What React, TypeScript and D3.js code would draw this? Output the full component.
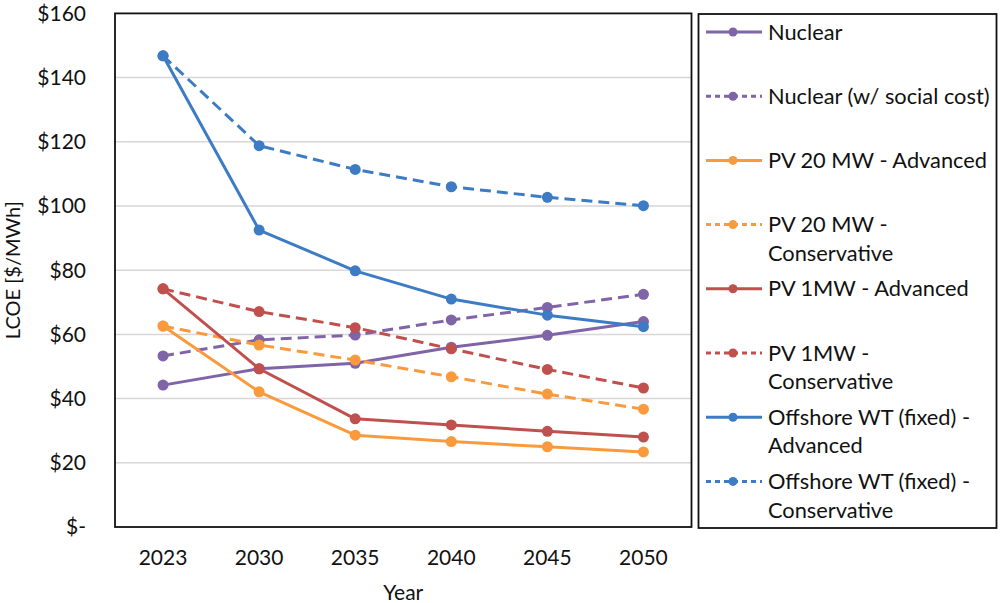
import React from "react";
import * as d3 from "d3";

const years = ["2023", "2030", "2035", "2040", "2045", "2050"];
const yTicks = [0, 20, 40, 60, 80, 100, 120, 140, 160];

const nuclear = [44.2, 49.3, 51.0, 56.0, 59.7, 64.0];
const nuclearSocial = [53.3, 58.3, 59.8, 64.5, 68.4, 72.5];
const pv20Adv = [62.6, 42.1, 28.6, 26.6, 25.0, 23.4];
const pv20Cons = [62.6, 56.7, 52.0, 46.8, 41.4, 36.7];
const pv1Adv = [74.2, 49.3, 33.7, 31.8, 29.8, 28.0];
const pv1Cons = [74.2, 67.1, 62.1, 55.5, 49.1, 43.3];
const offAdv = [146.8, 92.5, 79.8, 71.0, 66.0, 62.4];
const offCons = [146.8, 118.8, 111.4, 106.0, 102.7, 100.1];

const PURPLE = "#8064A8";
const ORANGE = "#FA9A3C";
const RED = "#C0504D";
const BLUE = "#3D7CC4";

const series = [
  { name: ["Nuclear"], values: nuclear, color: PURPLE, dashed: false },
  { name: ["Nuclear (w/ social cost)"], values: nuclearSocial, color: PURPLE, dashed: true },
  { name: ["PV 20 MW - Advanced"], values: pv20Adv, color: ORANGE, dashed: false },
  { name: ["PV 20 MW -", "Conservative"], values: pv20Cons, color: ORANGE, dashed: true },
  { name: ["PV 1MW - Advanced"], values: pv1Adv, color: RED, dashed: false },
  { name: ["PV 1MW -", "Conservative"], values: pv1Cons, color: RED, dashed: true },
  { name: ["Offshore WT (fixed) -", "Advanced"], values: offAdv, color: BLUE, dashed: false },
  { name: ["Offshore WT (fixed) -", "Conservative"], values: offCons, color: BLUE, dashed: true },
];

const FONT = "Lato, 'Open Sans', sans-serif";

export default function App() {
  const W = 1000, H = 603;
  const plot = { left: 115, right: 691.5, top: 13.4, bottom: 527 };
  const x = d3.scalePoint<string>().domain(years).range([plot.left, plot.right]).padding(0.5);
  const y = d3.scaleLinear().domain([0, 160]).range([plot.bottom, plot.top]);
  const line = d3
    .line<number>()
    .x((_, i) => x(years[i]) as number)
    .y((d) => y(d));

  const legend = { left: 698.5, top: 14, right: 996.5, bottom: 528 };
  const legendY0 = 32;
  const legendStep = 64.2;

  return (
    <svg width={W} height={H} style={{ position: "absolute", left: 0, top: 0, background: "#fff" }} fontFamily={FONT}>
      <rect x={0} y={0} width={W} height={H} fill="#fff" />
      {yTicks.filter((t) => t > 0 && t < 160).map((t) => (
        <line key={t} x1={plot.left} x2={plot.right} y1={y(t)} y2={y(t)} stroke="#D9D5D9" strokeWidth={1.5} />
      ))}
      <rect
        x={plot.left}
        y={plot.top}
        width={plot.right - plot.left}
        height={plot.bottom - plot.top}
        fill="none"
        stroke="#111"
        strokeWidth={1.8}
      />
      {yTicks.map((t) => (
        <text key={t} x={86} y={y(t)} dy="0.35em" textAnchor="end" fontSize={21} fill="#111">
          {t === 0 ? "$-" : `$${t}`}
        </text>
      ))}
      {years.map((yr) => (
        <text key={yr} x={x(yr)} y={558} dy="0.35em" textAnchor="middle" fontSize={21} fill="#111">
          {yr}
        </text>
      ))}
      <text x={(plot.left + plot.right) / 2} y={593} dy="0.35em" textAnchor="middle" fontSize={21} fill="#111">
        Year
      </text>
      <text
        transform={`translate(13, ${(plot.top + plot.bottom) / 2}) rotate(-90)`}
        dy="0.35em"
        textAnchor="middle"
        fontSize={20}
        fill="#111"
      >
        LCOE [$/MWh]
      </text>
      {series.map((s, si) => (
        <g key={si}>
          <path
            d={line(s.values) || ""}
            fill="none"
            stroke={s.color}
            strokeWidth={3}
            strokeDasharray={s.dashed ? "11 6" : undefined}
            strokeLinejoin="round"
          />
          {s.values.map((v, i) => (
            <circle key={i} cx={x(years[i])} cy={y(v)} r={5.5} fill={s.color} />
          ))}
        </g>
      ))}
      <rect
        x={legend.left}
        y={legend.top}
        width={legend.right - legend.left}
        height={legend.bottom - legend.top}
        fill="#fff"
        stroke="#111"
        strokeWidth={1.8}
      />
      {series.map((s, si) => {
        const cy = legendY0 + si * legendStep;
        return (
          <g key={si}>
            <line
              x1={706}
              x2={762}
              y1={cy}
              y2={cy}
              stroke={s.color}
              strokeWidth={3}
              strokeDasharray={s.dashed ? "5 4" : undefined}
            />
            <circle cx={733} cy={cy} r={4.5} fill={s.color} />
            {s.name.map((ln, li) => (
              <text key={li} x={768} y={cy + li * 28.5} dy="0.35em" fontSize={21.8} fill="#111">
                {ln}
              </text>
            ))}
          </g>
        );
      })}
    </svg>
  );
}
